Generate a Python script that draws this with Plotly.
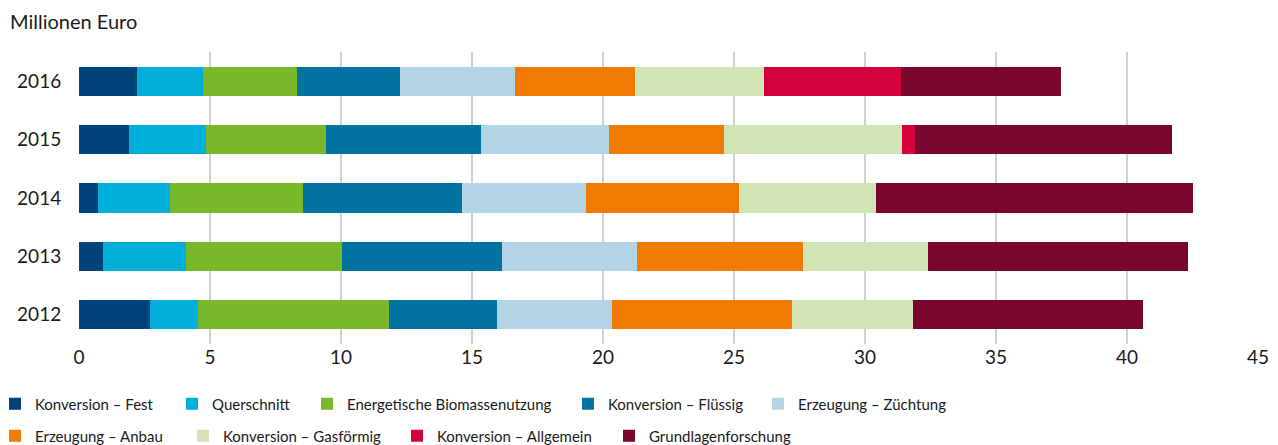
import plotly.graph_objects as go

years = ["2012", "2013", "2014", "2015", "2016"]

series_names = [
    "Konversion – Fest", "Querschnitt", "Energetische Biomassenutzung",
    "Konversion – Flüssig", "Erzeugung – Züchtung", "Erzeugung – Anbau",
    "Konversion – Gasförmig", "Konversion – Allgemein", "Grundlagenforschung",
]

konversion_fest = [2.70, 0.91, 0.72, 1.90, 2.21]
querschnitt = [1.84, 3.19, 2.77, 2.95, 2.51]
energetische = [7.29, 5.94, 5.06, 4.57, 3.59]
konversion_fluessig = [4.12, 6.10, 6.07, 5.92, 3.95]
erzeugung_zuechtung = [4.38, 5.17, 4.73, 4.87, 4.38]
erzeugung_anbau = [6.88, 6.33, 5.85, 4.41, 4.58]
konversion_gas = [4.62, 4.77, 5.23, 6.80, 4.92]
konversion_allgemein = [0.0, 0.0, 0.0, 0.49, 5.23]
grundlagen = [8.78, 9.92, 12.09, 9.81, 6.10]

series_values = [
    konversion_fest, querschnitt, energetische, konversion_fluessig,
    erzeugung_zuechtung, erzeugung_anbau, konversion_gas,
    konversion_allgemein, grundlagen,
]

colors = ["#00427a", "#00afd9", "#78b82a", "#0073a0", "#b3d4e4",
          "#ef7c00", "#d2e3b4", "#d4003b", "#78062e"]

x_ticks = [0, 5, 10, 15, 20, 25, 30, 35, 40, 45]

FONT = "Lato"
# the page body adds an 8px offset, so the figure is 8px smaller
W, H = 1270, 437
ML, MR, MT, MB = 71, 20, 44, 101
PW, PH = W - ML - MR, H - MT - MB

# legend entry placement (figure pixels): entry left and row centre
legend_px_x = [-13, 164, 299, 560, 750, -13, 175, 389, 601]
legend_px_y = [396, 396, 396, 396, 396, 428, 428, 428, 428]

fig = go.Figure()
legend_layout = {}
for i, (name, vals, col) in enumerate(zip(series_names, series_values, colors)):
    lname = "legend" if i == 0 else f"legend{i + 1}"
    fig.add_trace(go.Bar(
        y=years, x=vals, name=name, orientation="h",
        marker=dict(color=col, line=dict(width=0)),
        width=0.5,
        legend=lname,
        showlegend=True,
        hoverinfo="x+name",
    ))
    legend_layout[lname] = dict(
        orientation="h", xref="paper", yref="paper",
        x=(legend_px_x[i] - ML) / PW,
        y=(H - MB - legend_px_y[i]) / PH,
        xanchor="left", yanchor="middle",
        font=dict(size=15, color="#1a1a1a"), itemwidth=30,
        bgcolor="rgba(0,0,0,0)",
    )

fig.update_layout(
    barmode="stack",
    showlegend=True,
    width=W, height=H,
    margin=dict(l=ML, r=MR, t=MT, b=MB, autoexpand=False),
    paper_bgcolor="white", plot_bgcolor="white",
    font=dict(family=FONT, color="#1a1a1a", size=19),
    xaxis=dict(
        range=[0, 45], tickvals=x_ticks, showgrid=True,
        gridcolor="#c9d2d8", gridwidth=1.5, zeroline=False,
        showline=False, ticks="", tickfont=dict(size=19),
        fixedrange=True, automargin=False,
    ),
    yaxis=dict(
        type="category", categoryorder="array", categoryarray=years,
        showgrid=False, zeroline=False, showline=False,
        ticks="outside", ticklen=13, tickcolor="rgba(0,0,0,0)",
        tickfont=dict(size=19), automargin=False,
    ),
    annotations=[dict(
        text="Millionen Euro", xref="paper", yref="paper",
        x=0, y=1, xshift=-70, yshift=31, xanchor="left", yanchor="middle",
        showarrow=False, font=dict(size=20), borderpad=0,
    )],
    **legend_layout,
)

fig.write_html("out.html")
